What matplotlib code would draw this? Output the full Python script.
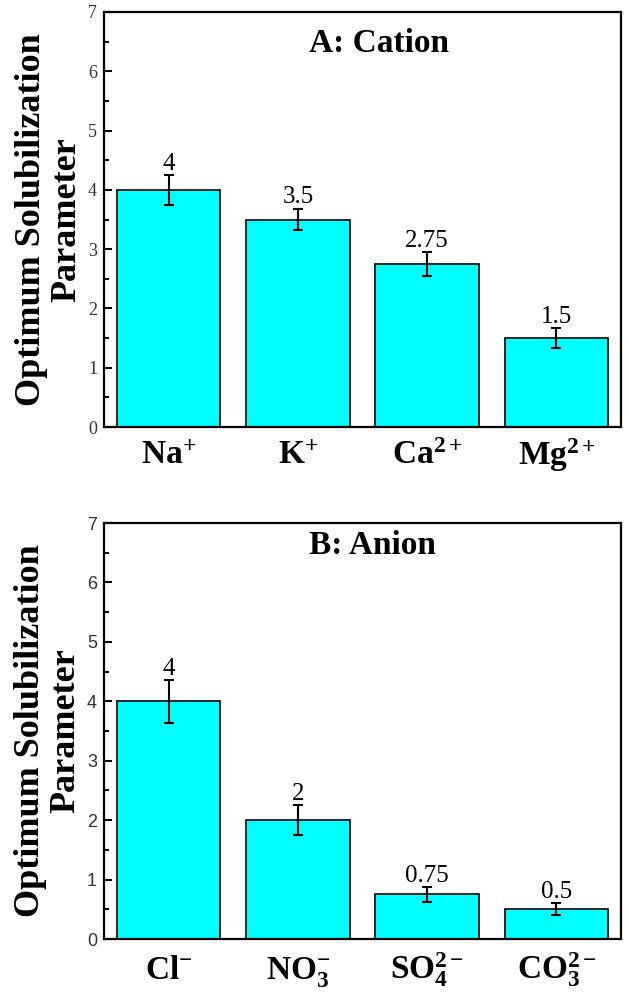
import numpy as np
import matplotlib
matplotlib.use('Agg')
import matplotlib.pyplot as plt

plt.rcParams['font.family'] = 'Liberation Serif'
plt.rcParams['mathtext.fontset'] = 'custom'
plt.rcParams['mathtext.rm'] = 'Liberation Serif'
plt.rcParams['mathtext.bf'] = 'Liberation Serif:bold'
plt.rcParams['mathtext.it'] = 'Liberation Serif:italic'

# Datos
cationes = [r'$\mathbf{Na^{+}}$', r'$\mathbf{K^{+}}$', r'$\mathbf{Ca^{2+}}$', r'$\mathbf{Mg^{2+}}$']
valores_cation = [4, 3.5, 2.75, 1.5]
error_cation = [0.25, 0.18, 0.2, 0.17]
etiquetas_cation = ['4', '3.5', '2.75', '1.5']

aniones = [r'$\mathbf{Cl^{-}}$', r'$\mathbf{NO_3^{-}}$', r'$\mathbf{SO_4^{2-}}$', r'$\mathbf{CO_3^{2-}}$']
valores_anion = [4, 2, 0.75, 0.5]
error_anion = [0.36, 0.25, 0.12, 0.1]
etiquetas_anion = ['4', '2', '0.75', '0.5']

fig = plt.figure(figsize=(6.29, 9.93), dpi=100)
ax1 = fig.add_axes([104 / 629, 1 - 427 / 993, 517 / 629, 415 / 993])
ax2 = fig.add_axes([104 / 629, 1 - 939 / 993, 517 / 629, 416 / 993])


def dibujar_panel(ax, nombres, valores, errores, etiquetas, titulo, y_titulo, fuente_ticks, pad_x):
    x = np.arange(len(nombres))
    ax.bar(x, valores, width=0.8, color='#00ffff', edgecolor='black', linewidth=1.2, zorder=2)
    ax.errorbar(x, valores, yerr=errores, fmt='none', ecolor='black', elinewidth=1.5,
                capsize=3.5, capthick=1.5, zorder=3)
    # etiquetas de valor encima de cada barra
    for xi, v, e, t in zip(x, valores, errores, etiquetas):
        ax.text(xi, v + e + 0.09, t, ha='center', va='baseline', fontsize=18)
    ax.set_xlim(-0.5, 3.5)
    ax.set_ylim(0, 7)
    ax.set_xticks(x)
    ax.set_xticklabels(nombres, fontsize=24)
    for lab in ax.get_xticklabels():
        lab.set_verticalalignment('baseline')
    ax.set_yticks(range(0, 8))
    ax.set_yticks(np.arange(0.5, 7, 1), minor=True)
    ax.tick_params(axis='y', which='major', direction='in', length=6, width=1.5, labelsize=13, pad=5)
    ax.tick_params(axis='y', which='minor', direction='in', length=3.5, width=1.5)
    ax.tick_params(axis='x', length=0, pad=pad_x)
    for lab in ax.get_yticklabels():
        lab.set_fontfamily(fuente_ticks)
        lab.set_color('#333333')
    for s in ax.spines.values():
        s.set_linewidth(1.6)
    ax.text(0.397, y_titulo, titulo, transform=ax.transAxes, ha='left', va='center',
            fontsize=24, fontweight='bold')
    ax.set_ylabel('Optimum Solubilization\nParameter', fontsize=26, fontweight='bold',
                  linespacing=1.1, labelpad=3)


dibujar_panel(ax1, cationes, valores_cation, error_cation, etiquetas_cation,
              'A: Cation', 0.925, 'Liberation Serif', 27)
dibujar_panel(ax2, aniones, valores_anion, error_anion, etiquetas_anion,
              'B: Anion', 0.947, 'Liberation Sans', 29)

fig.savefig('out.png', dpi=100)
